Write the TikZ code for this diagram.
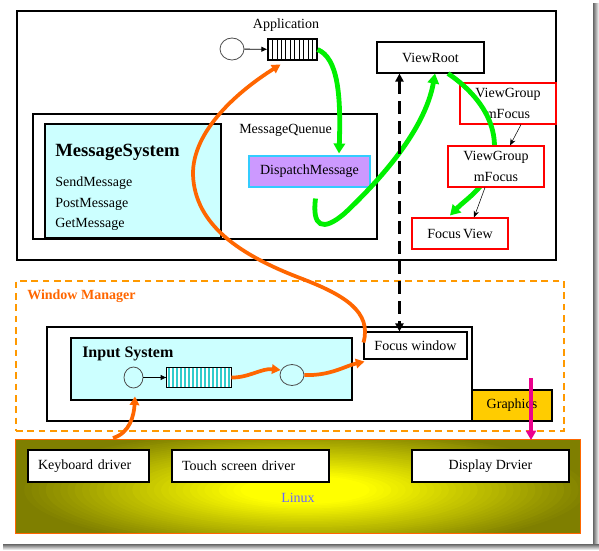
\documentclass[tikz,border=0pt]{standalone}
\usepackage{fontspec}
\setmainfont{Liberation Serif}
\usetikzlibrary{arrows.meta,calc,shapes.geometric}
\definecolor{vgreen}{HTML}{00F000}
\definecolor{vorange}{HTML}{FF6600}
\definecolor{dashorange}{HTML}{FF9900}
\definecolor{msfill}{HTML}{CCFFFF}
\definecolor{dmfill}{HTML}{CC99FF}
\definecolor{dmborder}{HTML}{33CCFF}
\definecolor{stripe}{HTML}{33CCCC}
\definecolor{grfill}{HTML}{FFCC00}
\definecolor{linuxblue}{HTML}{6666FF}
\definecolor{linuxolive}{HTML}{7F7F00}
\definecolor{glowyellow}{HTML}{FFFF00}
\newcommand\pbox[7]{\node[#6,minimum width={(#4-#2)*0.75pt},minimum height={(#5-#3)*0.75pt},inner sep=0pt] (#1) at ({(#2+#4)/2},{(#3+#5)/2}) {#7};}
\begin{document}
\begin{tikzpicture}[x=0.75pt,y=-0.75pt,font=\fontsize{10.5}{12.6}\selectfont,
  blk/.style={draw=black,fill=white,line width=0.8pt},
  rbox/.style={draw=red,fill=white,line width=0.8pt,align=center,font=\fontsize{10.5}{15.5}\selectfont},
  lbl/.style={inner sep=0pt},
  oval/.style={ellipse,draw=black!70,line width=0.6pt,inner sep=0pt},
  small/.style={-{Latex[length=4.5pt,width=4pt]},line width=0.6pt},
  thinarr/.style={-{Stealth[length=5pt,width=4pt]},line width=0.4pt},
  garrow/.style={vgreen,line width=3.6pt,-{Triangle[length=7.5pt,width=8.5pt]}},
  oarrow/.style={vorange,line width=2.8pt,-{Triangle[length=6.5pt,width=7pt]}}]
\useasboundingbox (0,0) rectangle (599,550);
% window shadow
\shade[left color=black!60,right color=white] (593,3) rectangle (599,550);
\shade[top color=black!60,bottom color=white] (3,544) rectangle (599,550);

% ---------- application frame ----------
\pbox{top}{17}{11}{556}{260}{blk}{}
\node[lbl] (applbl) at (286,25) {Application};
\node[oval,minimum width=24*0.75pt,minimum height=22*0.75pt] (appc) at (232,49) {};
\pbox{appq}{268}{39}{317}{60}{blk}{}
\foreach \i in {1,...,10} \draw[line width=0.6pt] ({268+\i*4.45},39) -- ({268+\i*4.45},60);
\draw[small] (appc) -- (appq);

\pbox{mq}{33}{114}{377}{239}{blk}{}
\node[lbl,anchor=west] (mqlbl) at (239,130) {MessageQuenue};
\pbox{ms}{45}{124}{221}{238}{blk,fill=msfill}{}
\node[lbl,anchor=west,font=\bfseries\fontsize{14}{16}\selectfont] (mstitle) at (55,152) {MessageSystem};
\node[lbl,anchor=west] (send) at (55,183) {SendMessage};
\node[lbl,anchor=west] (post) at (55,204) {PostMessage};
\node[lbl,anchor=west] (get) at (55,224) {GetMessage};
\pbox{dm}{249}{156}{370}{187}{draw=dmborder,fill=dmfill,line width=0.8pt}{DispatchMessage}

\pbox{vr}{377}{42}{484}{73}{blk}{ViewRoot}
\pbox{vg1}{460}{83}{556}{124}{rbox}{ViewGroup\\mFocus}
\pbox{fv}{412}{218}{508}{249}{rbox}{Focus\,View}

% green flows
\draw[garrow] (appq.east) .. controls (338,58) and (341,95) .. ($(dm.north)+(29.5,-2)$);
\draw[garrow] ($(dm.south)+(6,11)$) .. controls (312,226) and (322,233) .. (345,213)
   .. controls (380,180) and (425,130) .. ($(vr.south)+(4.5,0)$);
\draw[garrow] ($(vr.south)+(17.5,0)$) .. controls (480,95) and (505,130) .. (490,170)
   .. controls (482,190) and (465,200) .. ($(fv.north)+(-10,-2)$);

\pbox{vg2}{448}{146}{544}{187}{rbox}{ViewGroup\\mFocus}
\draw[thinarr] ($(vg1.south)+(13,0)$) -- ($(vg2.north)+(14,0)$);
\draw[thinarr] ($(vg2.south)+(-11,0)$) -- ($(fv.north)+(14,0)$);

% ---------- window manager ----------
\pbox{wm}{16}{281}{564}{431}{draw=dashorange,dash pattern=on 5pt off 3.5pt,line width=0.8pt}{}
\node[lbl,anchor=west,text=vorange,font=\bfseries\fontsize{10.5}{12}\selectfont] (wmlbl) at (27,296) {Window Manager};
\pbox{wbox}{47}{327}{472}{421}{blk}{}
\pbox{is}{71}{338}{352}{400}{blk,fill=msfill}{}
\node[lbl,anchor=west,font=\bfseries\fontsize{12}{14}\selectfont] (islbl) at (82,354) {Input System};
\node[oval,minimum width=19*0.75pt,minimum height=21*0.75pt] (ic1) at (133.5,377.5) {};
\pbox{iq}{167}{368}{231}{387}{fill=white}{}
\foreach \i in {0,...,15} \fill[stripe] ({167.8+\i*4},368) rectangle ({170.1+\i*4},387);
\draw[line width=0.8pt] (iq.south west) rectangle (iq.north east);
\draw[small] (ic1) -- (iq);
\node[oval,minimum width=24*0.75pt,minimum height=21*0.75pt] (ic2) at (292,375) {};
\pbox{fw}{364}{332}{467}{359}{blk}{Focus window}
\pbox{gr}{472}{390}{552}{421}{blk,fill=grfill}{Graphics}

% dashed link ViewRoot <-> Focus window
\draw[{Triangle[length=6pt,width=6pt]}-{Triangle[length=6pt,width=6pt]},line width=2.5pt,dash pattern=on 10pt off 5pt]
  ($(vr.south west)+(23,0)$) -- ($(fw.north west)+(36,0)$);

% ---------- linux ----------
\pbox{lx}{16}{440}{580}{533}{fill=linuxolive}{}
\begin{scope}
\clip (lx.south west) rectangle (lx.north east);
\foreach \i in {40,39,...,1} {
  \pgfmathtruncatemacro\p{min(100,130*(1-\i/40))}
  \fill[glowyellow!\p!linuxolive] (305,490) ellipse [x radius={\i*7.2}, y radius={\i*1.55}];
}
\end{scope}
\draw[vorange,line width=0.8pt] (lx.south west) rectangle (lx.north east);
\pbox{kb}{28}{450}{149}{482}{blk,text width={101*0.75pt}}{Keyboard driver}
\pbox{ts}{172}{450}{329}{482}{blk,text width={137*0.75pt}}{Touch screen driver}
\pbox{dd}{412}{450}{569}{482}{blk}{Display Drvier}
\node[lbl,text=linuxblue] (linuxlbl) at (298,498) {Linux};

% magenta
\coordinate (mgs) at (531,378);
\coordinate (mge) at (531,440);
\draw[magenta,line width=2.6pt,-{Triangle[length=7pt,width=7.5pt]}] (mgs) -- (mge);

% orange flows
\coordinate (kbin) at (113,438);
\draw[oarrow] (kbin) .. controls (130,433) and (134,415) .. ($(ic1.south)+(1.5,8)$);
\draw[oarrow] (iq.east) .. controls (248,378) and (262,368) .. ($(ic2.west)+(1,-5)$);
\draw[oarrow] (ic2.east) .. controls (330,376) and (345,366) .. ($(fw.south west)+(1,2)$);
\draw[oarrow] ($(fw.west)+(0,-3)$) .. controls (372,312) and (345,295) .. (300,278)
   .. controls (240,255) and (195,225) .. (193,175)
   .. controls (192,130) and (240,90) .. ($(appq.south)+(-12,4)$);
\end{tikzpicture}
\end{document}
